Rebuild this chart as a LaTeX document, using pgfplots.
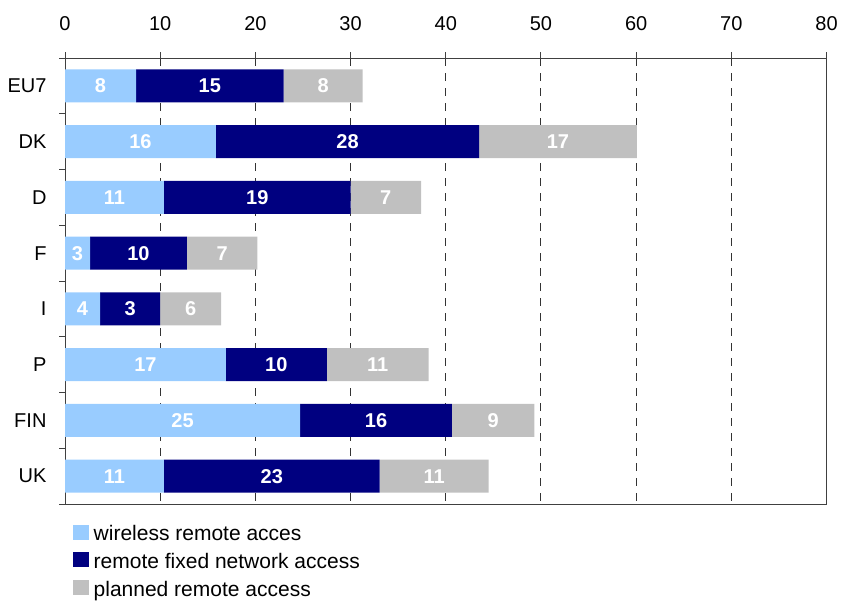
\documentclass[border=0pt]{standalone}
\usepackage{fontspec}
\setmainfont{Liberation Sans}
\usepackage{pgfplots}
\usepackage{pgfplotstable}
\pgfplotsset{compat=1.18}
\definecolor{wl}{HTML}{99CCFF}
\definecolor{fx}{HTML}{000080}
\definecolor{pl}{HTML}{C0C0C0}

% y: category index; w,f,p: bar lengths; lw,lf,lp: printed labels
\pgfplotstableread{
y w f p lw lf lp
0 7.46 15.51 8.30 8 15 8
1 15.86 27.64 16.58 16 28 17
2 10.40 19.60 7.40 11 19 7
3 2.63 10.17 7.40 3 10 7
4 3.68 6.32 6.40 4 3 6
5 16.90 10.60 10.70 17 10 11
6 24.70 15.95 8.65 25 16 9
7 10.40 22.65 11.45 11 23 11
}\data

\pgfplotsset{
  common/.style={
    at={(65pt,-58pt)}, anchor=north west,
    scale only axis, width=761.5pt, height=446pt,
    xmin=0, xmax=80, ymin=-0.5, ymax=7.5,
    y dir=reverse, enlargelimits=false,
  }
}

\begin{document}
\begin{tikzpicture}
\path[use as bounding box] (0pt,0pt) rectangle (842pt,-603pt);
\clip (0pt,0pt) rectangle (842pt,-603pt);
\begin{axis}[
  common,
  xbar stacked, bar width=0.59,
  axis line style={draw=black!75, line width=1pt},
  tick align=outside,
  major tick length=6pt, minor tick length=6pt,
  tick style={black!75, line width=1pt},
  xtick={0,10,...,80},
  xtick pos=right, xticklabel pos=right,
  xticklabel style={yshift=18pt},
  xmajorgrids,
  grid style={black!80, line width=1pt, dash pattern=on 8pt off 7pt},
  ytick={0,...,7},
  yticklabels={EU7,DK,D,F,I,P,FIN,UK},
  major y tick style={draw=none},
  minor ytick={-0.5,0.5,...,7.5},
  ytick pos=left,
  yticklabel style={xshift=-9pt},
  /pgf/number format/assume math mode=true,
  every tick label/.append style={font=\fontsize{20}{24}\selectfont},
  legend style={draw=none, fill=none, at={(0.0105,-0.043)}, anchor=north west,
    inner sep=0pt, row sep=7pt, font=\fontsize{21}{24}\selectfont,
    nodes={inner sep=2pt},
    /tikz/every odd column/.append style={column sep=3pt}},
  legend cell align=left,
  legend image code/.code={\draw[#1, draw=none] (0pt,-6pt) rectangle (15.5pt,9pt);},
]
\addplot[fill=wl, draw=none] table[x=w, y=y] {\data};
\addlegendentry{wireless remote acces}
\addplot[fill=fx, draw=none] table[x=f, y=y] {\data};
\addlegendentry{remote fixed network access}
\addplot[fill=pl, draw=none] table[x=p, y=y] {\data};
\addlegendentry{planned remote access}
\end{axis}
\begin{axis}[
  common, hide axis, clip=false,
  nodes near coords,
  point meta=explicit symbolic,
  every node near coord/.append style={anchor=center, text=white,
    font=\bfseries\fontsize{20}{24}\selectfont},
]
\addplot[only marks, mark=none] table[x expr=\thisrow{w}/2, y=y, meta=lw] {\data};
\addplot[only marks, mark=none] table[x expr=\thisrow{w}+\thisrow{f}/2, y=y, meta=lf] {\data};
\addplot[only marks, mark=none] table[x expr=\thisrow{w}+\thisrow{f}+\thisrow{p}/2, y=y, meta=lp] {\data};
\end{axis}
\end{tikzpicture}
\end{document}
